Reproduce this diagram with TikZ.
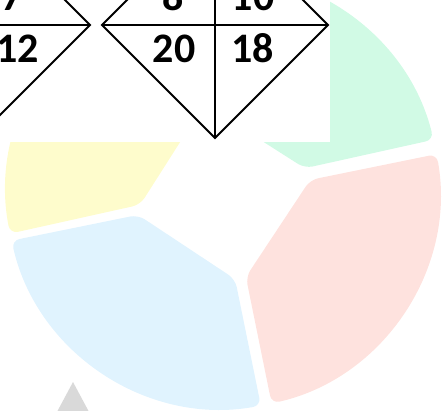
\documentclass[tikz,border=0pt]{standalone}
\usepackage{fontspec}
\setmainfont{Carlito}
\definecolor{cgreen}{RGB}{209,250,229}
\definecolor{cpink}{RGB}{254,226,222}
\definecolor{cblue}{RGB}{224,243,254}
\definecolor{cyellow}{RGB}{254,252,204}
\definecolor{cgrey}{RGB}{217,217,217}
\tikzset{
  sector/.style={rounded corners=8pt},
  gridline/.style={line width=1.8pt, line join=miter, line cap=butt},
  num/.style={font=\fontsize{42}{42}\selectfont\bfseries, anchor=base, inner sep=0pt}
}
\newcommand{\mysector}[3]{%
  \begin{scope}[shift={(223,-192)}, rotate=#1]
    \fill[#2, sector] (#3,-#3+7.8) -- (-43.55:217) arc[start angle=-43.55, end angle=43.55, radius=217] -- (#3,#3-7.8) -- cycle;
  \end{scope}}
\begin{document}
\begin{tikzpicture}[x=1pt,y=1pt]
\useasboundingbox (0,0) rectangle (442,-410);
\clip (0,0) rectangle (442,-410);
% pie sectors
\mysector{57.5}{cgreen}{64}
\mysector{147.5}{cyellow}{63}
\mysector{236.5}{cblue}{66}
\mysector{326.5}{cpink}{66}
% grey triangle
\fill[cgrey] (73,-382) -- (50,-425) -- (96,-425) -- cycle;
% white box over the pie
\fill[white] (0,0) rectangle (330,-141.5);
% right diamond
\coordinate (rl) at (102,-25);
\coordinate (rb) at (215,-138);
\coordinate (rr) at (328,-25);
\coordinate (rt) at (215,88);
\draw[gridline] (rl) -- (rb) -- (rr) -- (rt) -- cycle;
\draw[gridline] (rl) -- (rr);
\draw[gridline] (rt) -- (rb);
% left diamond
\coordinate (ll) at (-136,-25);
\coordinate (lb) at (-23,-138);
\coordinate (lr) at (90,-25);
\coordinate (lt) at (-23,88);
\draw[gridline] (ll) -- (lb) -- (lr) -- (lt) -- cycle;
\draw[gridline] (ll) -- (lr);
\draw[gridline] (lt) -- (lb);
% numbers
\node[num] (n7) at (12.5,-10.5) {7};
\node[num] (n12) at (17.5,-62) {12};
\node[num] (n8) at (173,-10.5) {8};
\node[num] (n10) at (253,-10.5) {10};
\node[num] (n20) at (174,-62) {20};
\node[num] (n18) at (252.5,-62) {18};
\end{tikzpicture}
\end{document}
